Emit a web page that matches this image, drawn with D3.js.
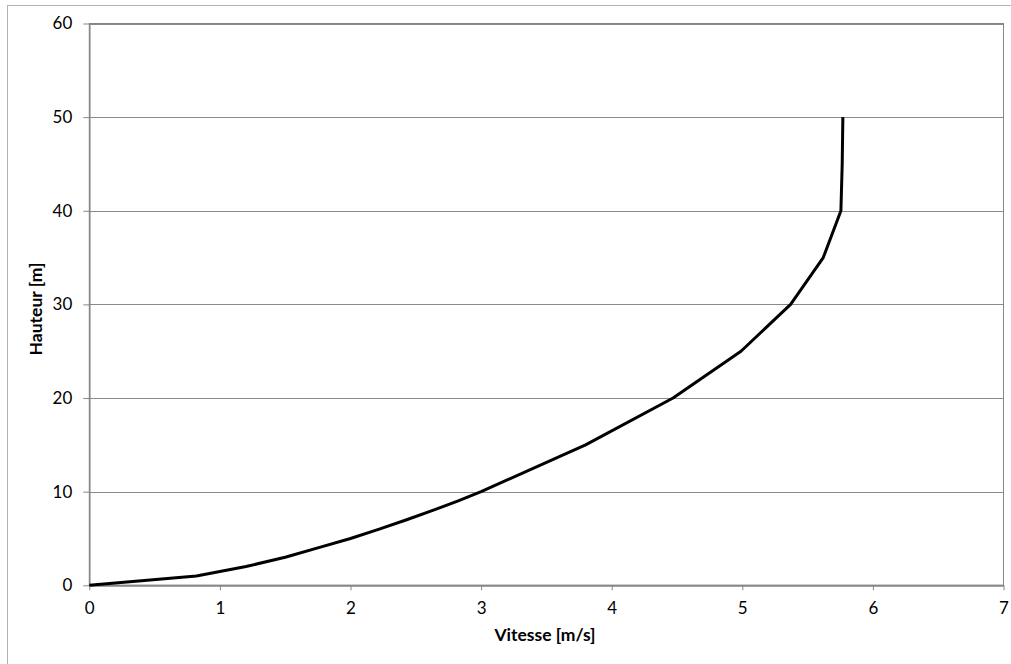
<!DOCTYPE html>
<html><head><meta charset="utf-8">
<script src="https://cdn.jsdelivr.net/npm/d3@7"></script>
<style>body{margin:0;background:#fff}svg{display:block}</style>
</head><body>
<svg id="c" width="1011" height="664"></svg>
<script>
const hauteur = [0, 1, 2, 3, 4, 5, 6, 7, 8, 9, 10, 15, 20, 25, 30, 35, 40, 45, 50];
const vitesse = [0, 0.82, 1.2, 1.5, 1.75, 2.0, 2.22, 2.43, 2.63, 2.82, 3.0, 3.8, 4.47, 4.99, 5.37, 5.62, 5.755, 5.765, 5.77];
const xTicks = [0, 1, 2, 3, 4, 5, 6, 7];
const yTicks = [0, 10, 20, 30, 40, 50, 60];

const svg = d3.select("#c");
const font = "Lato, 'Open Sans', sans-serif";
const L = 89.3, R = 1003.5, T = 23.5, B = 585.3;
const x = d3.scaleLinear().domain([0, 7]).range([L, R]);
const y = d3.scaleLinear().domain([0, 60]).range([B, T]);

svg.append("rect").attr("x", 7.5).attr("y", 5.5).attr("width", 1020).attr("height", 680)
  .attr("fill", "#fff").attr("stroke", "#b3b3b3");

// gridlines
svg.append("g").selectAll("line").data(yTicks.filter(d => d > 0)).join("line")
  .attr("x1", L).attr("x2", R).attr("y1", d => Math.round(y(d)) + 0.5).attr("y2", d => Math.round(y(d)) + 0.5)
  .attr("stroke", "#8a8a8a").attr("stroke-width", 1);

// plot border
svg.append("rect").attr("x", L).attr("y", T).attr("width", R - L).attr("height", B - T)
  .attr("fill", "none").attr("stroke", "#868686").attr("stroke-width", 1);

// axes
const xAxis = d3.axisBottom(x).tickValues(xTicks).tickFormat(d3.format("d")).tickSize(5).tickPadding(12).tickSizeOuter(0);
const gx = svg.append("g").attr("transform", `translate(0,${B})`).call(xAxis);
gx.select(".domain").attr("stroke", "#868686").attr("stroke-width", 2);
gx.selectAll(".tick line").attr("stroke", "#868686");
gx.selectAll("text").attr("font-family", font).attr("font-size", 17).attr("fill", "#000");

const yAxis = d3.axisLeft(y).tickValues(yTicks).tickFormat(d3.format("d")).tickSize(6).tickPadding(11).tickSizeOuter(0);
const gy = svg.append("g").attr("transform", `translate(${L},0)`).call(yAxis);
gy.select(".domain").attr("stroke", "#868686").attr("stroke-width", 1.5);
gy.selectAll(".tick line").attr("stroke", "#868686");
gy.selectAll("text").attr("font-family", font).attr("font-size", 17).attr("fill", "#000");

// line
const data = hauteur.map((h, i) => ({ h, v: vitesse[i] }));
svg.append("path").datum(data)
  .attr("d", d3.line().x(d => x(d.v)).y(d => y(d.h)))
  .attr("fill", "none").attr("stroke", "#000").attr("stroke-width", 3).attr("stroke-linejoin", "round");

// axis titles
svg.append("text").attr("x", 545).attr("y", 641).attr("text-anchor", "middle")
  .attr("font-family", font).attr("font-size", 17.5).attr("font-weight", "bold").text("Vitesse [m/s]");
svg.append("text").attr("transform", `translate(42,309) rotate(-90)`).attr("text-anchor", "middle")
  .attr("font-family", font).attr("font-size", 17.5).attr("font-weight", "bold").text("Hauteur [m]");
</script>
</body></html>
